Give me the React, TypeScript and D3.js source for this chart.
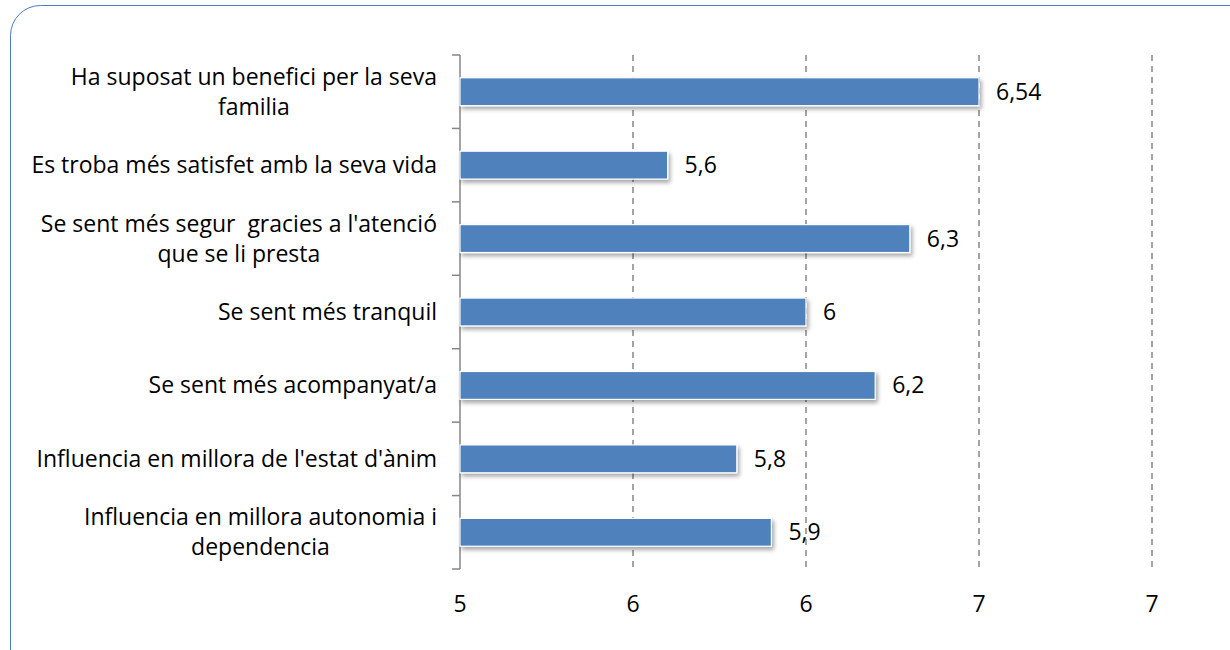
import React from "react";
import * as d3 from "d3";

const categories: string[][] = [
  ["Ha suposat un benefici per la seva", "familia"],
  ["Es troba més satisfet amb la seva vida"],
  ["Se sent més segur  gracies a l'atenció", "que se li presta"],
  ["Se sent més tranquil"],
  ["Se sent més acompanyat/a"],
  ["Influencia en millora de l'estat d'ànim"],
  ["Influencia en millora autonomia i", "dependencia"],
];
const values: number[] = [6.5, 5.6, 6.3, 6.0, 6.2, 5.8, 5.9];
const valueLabels: string[] = ["6,54", "5,6", "6,3", "6", "6,2", "5,8", "5,9"];
const tickValues: number[] = [5, 5.5, 6, 6.5, 7];
const tickLabels: string[] = ["5", "6", "6", "7", "7"];

const W = 1230;
const H = 650;
const FONT = "'Open Sans', 'Liberation Sans', Arial, sans-serif";
const FS = 23;

const keepSpaces = (s: string) => s.replace(/  /g, " \u00A0");

export default function App() {
  const x = d3.scaleLinear().domain([5, 7]).range([460, 1152]);
  const y = d3
    .scaleBand<number>()
    .domain(d3.range(categories.length))
    .range([55, 569])
    .paddingInner(0.62)
    .paddingOuter(0.31);
  const step = y.step();
  const boundaries = d3.range(categories.length + 1).map((i) => 55 + i * step);
  const lineH = 30;

  return (
    <svg
      width={W}
      height={H}
      style={{ position: "absolute", left: 0, top: 0, display: "block" }}
    >
      <defs>
        <filter id="shadow" x="-5%" y="-30%" width="110%" height="180%">
          <feDropShadow dx="2" dy="3" stdDeviation="2" floodColor="#000" floodOpacity="0.35" />
        </filter>
      </defs>
      <rect x={0} y={0} width={W} height={H} fill="#fff" />
      <rect
        x={10.5}
        y={5.5}
        width={1250}
        height={680}
        rx={30}
        ry={30}
        fill="none"
        stroke="#4a7ebb"
        strokeWidth={1}
      />
      {tickValues.slice(1).map((t, i) => (
        <line
          key={"g" + i}
          x1={x(t)}
          x2={x(t)}
          y1={55}
          y2={569}
          stroke="#868686"
          strokeWidth={1.5}
          strokeDasharray="6,5"
        />
      ))}
      <line x1={x(5)} x2={x(5)} y1={55} y2={569} stroke="#868686" strokeWidth={1.5} />
      {boundaries.map((b, i) => (
        <line key={"t" + i} x1={452} x2={x(5)} y1={b} y2={b} stroke="#868686" strokeWidth={1.5} />
      ))}
      {values.map((v, i) => (
        <rect
          key={"b" + i}
          x={x(5)}
          y={y(i)!}
          width={x(v) - x(5)}
          height={y.bandwidth()}
          fill="#4f81bd"
          stroke="#ffffff"
          strokeWidth={1.2}
          filter="url(#shadow)"
        />
      ))}
      {values.map((v, i) => (
        <text
          key={"v" + i}
          x={x(v) + 17}
          y={y(i)! + y.bandwidth() / 2}
          dy="0.35em"
          fontFamily={FONT}
          fontSize={FS}
          fill="#000"
        >
          {valueLabels[i]}
        </text>
      ))}
      {categories.map((lines, i) => {
        const cy = y(i)! + y.bandwidth() / 2;
        const startY = cy - ((lines.length - 1) * lineH) / 2;
        return (
          <g key={"c" + i}>
            <text fontFamily={FONT} fontSize={FS} fill="#000" textAnchor="end" dy="0.35em" x={437} y={startY}>
              {keepSpaces(lines[0])}
            </text>
            {lines.length > 1 && <CenteredSecond lines={lines} startY={startY} lineH={lineH} />}
          </g>
        );
      })}
      {tickValues.map((t, i) => (
        <text
          key={"x" + i}
          x={x(t)}
          y={604}
          dy="0.35em"
          textAnchor="middle"
          fontFamily={FONT}
          fontSize={FS}
          fill="#000"
        >
          {tickLabels[i]}
        </text>
      ))}
    </svg>
  );
}

function CenteredSecond({ lines, startY, lineH }: { lines: string[]; startY: number; lineH: number }) {
  const ref = React.useRef<SVGTextElement>(null);
  const [cx, setCx] = React.useState<number | null>(null);
  React.useLayoutEffect(() => {
    const el = ref.current;
    if (!el) return;
    const first = el.previousSibling as SVGTextElement | null;
    if (first && first.getBBox) {
      const bb = first.getBBox();
      setCx(bb.x + bb.width / 2);
    }
  }, []);
  return (
    <text
      ref={ref}
      fontFamily={FONT}
      fontSize={FS}
      fill="#000"
      textAnchor="middle"
      dy="0.35em"
      x={cx ?? 250}
      y={startY + lineH}
    >
      {keepSpaces(lines[1])}
    </text>
  );
}
